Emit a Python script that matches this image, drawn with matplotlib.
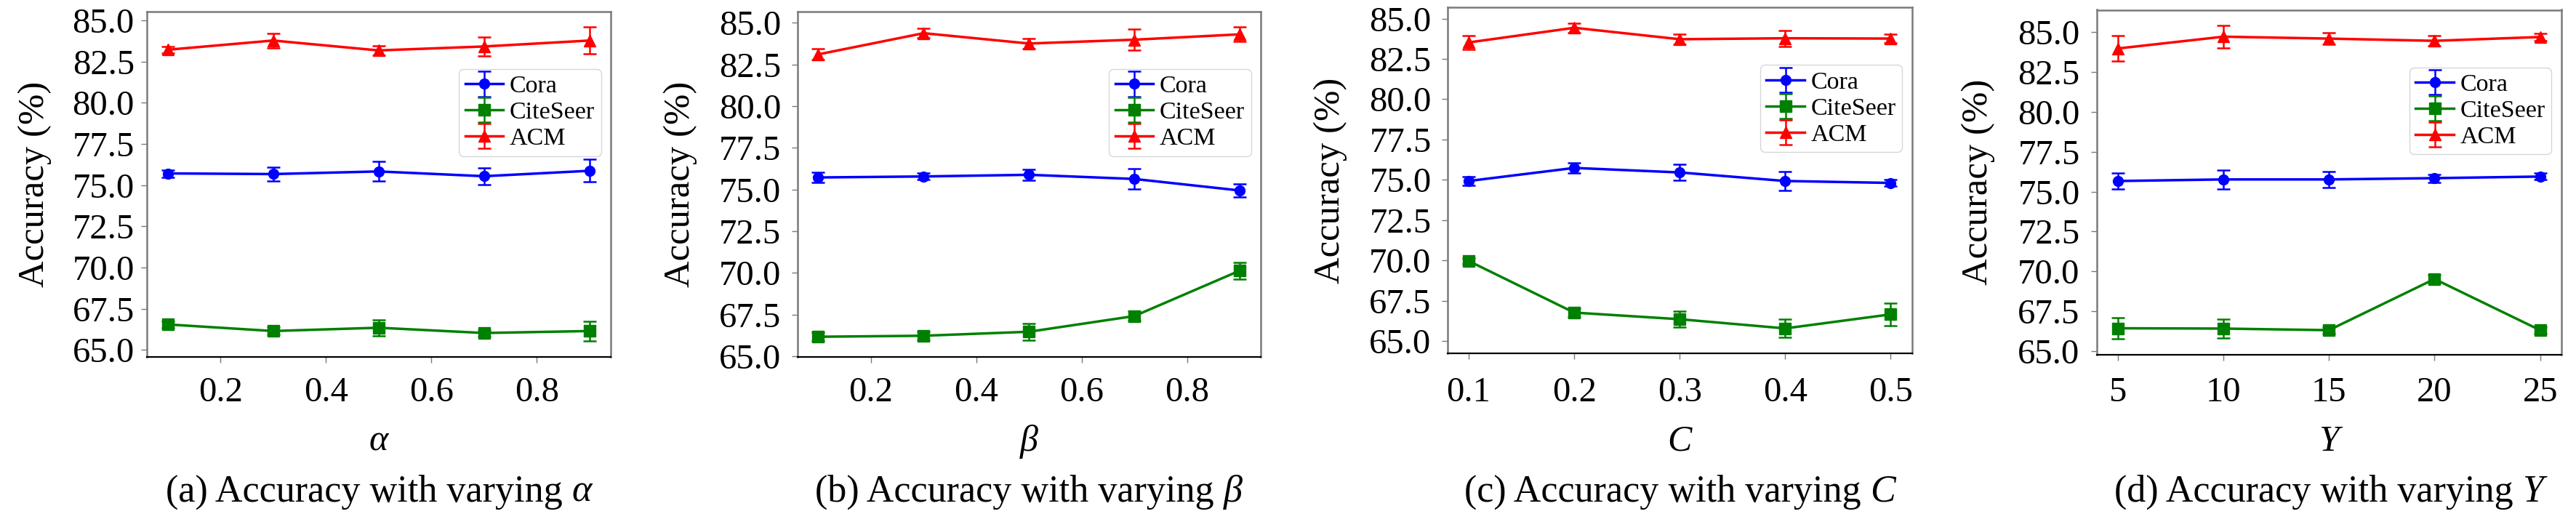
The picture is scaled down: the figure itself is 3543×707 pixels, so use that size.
import matplotlib
matplotlib.use("Agg")
import matplotlib.pyplot as plt
from matplotlib import font_manager
from matplotlib.font_manager import FontProperties
from matplotlib.text import Text
from matplotlib.ticker import FixedLocator, FormatStrFormatter

plt.rcParams['font.family'] = 'serif'
plt.rcParams['font.serif'] = ['Liberation Serif', 'Times New Roman', 'DejaVu Serif']
plt.rcParams['font.sans-serif'] = ['Liberation Serif', 'DejaVu Serif']

serif_path = font_manager.findfont(FontProperties(family='Liberation Serif'))
serif_it_path = font_manager.findfont(FontProperties(family='Liberation Serif', style='italic'))


def fp(size):
    return FontProperties(fname=serif_path, size=size)


def fpi(size):
    return FontProperties(fname=serif_it_path, size=size)


# ---------------- data ----------------
series_names = ['Cora', 'CiteSeer', 'ACM']
series_colors = ['#0000ff', '#008000', '#ff0000']
series_markers = ['o', 's', '^']
series_msize = [10, 11, 12]

x_alpha = [0.1, 0.3, 0.5, 0.7, 0.9]
cora_alpha = [75.71, 75.67, 75.83, 75.54, 75.87]
cora_alpha_err = [0.22, 0.40, 0.60, 0.52, 0.68]
cite_alpha = [66.55, 66.15, 66.35, 66.03, 66.15]
cite_alpha_err = [0.20, 0.22, 0.48, 0.20, 0.60]
acm_alpha = [83.21, 83.77, 83.17, 83.41, 83.77]
acm_alpha_err = [0.20, 0.45, 0.30, 0.58, 0.81]

x_beta = [0.1, 0.3, 0.5, 0.7, 0.9]
cora_beta = [75.72, 75.78, 75.88, 75.63, 74.94]
cora_beta_err = [0.32, 0.20, 0.33, 0.62, 0.38]
cite_beta = [66.17, 66.23, 66.47, 67.41, 70.13]
cite_beta_err = [0.25, 0.25, 0.50, 0.28, 0.50]
acm_beta = [83.10, 84.37, 83.75, 83.98, 84.30]
acm_beta_err = [0.32, 0.29, 0.30, 0.63, 0.43]

x_C = [0.1, 0.2, 0.3, 0.4, 0.5]
cora_C = [74.93, 75.74, 75.46, 74.93, 74.81]
cora_C_err = [0.26, 0.30, 0.49, 0.59, 0.20]
cite_C = [69.97, 66.77, 66.36, 65.79, 66.66]
cite_C_err = [0.20, 0.25, 0.50, 0.57, 0.70]
acm_C = [83.52, 84.43, 83.72, 83.78, 83.76]
acm_C_err = [0.43, 0.30, 0.33, 0.50, 0.28]

x_Y = [5, 10, 15, 20, 25]
cora_Y = [75.66, 75.76, 75.76, 75.84, 75.94]
cora_Y_err = [0.51, 0.58, 0.50, 0.25, 0.20]
cite_Y = [66.45, 66.43, 66.33, 69.53, 66.33]
cite_Y_err = [0.67, 0.61, 0.20, 0.25, 0.20]
acm_Y = [83.95, 84.69, 84.57, 84.43, 84.67]
acm_Y_err = [0.79, 0.70, 0.36, 0.31, 0.23]

xticks_list = [[0.2, 0.4, 0.6, 0.8], [0.2, 0.4, 0.6, 0.8],
               [0.1, 0.2, 0.3, 0.4, 0.5], [5, 10, 15, 20, 25]]
xtick_fmt = ['%.1f', '%.1f', '%.1f', '%d']
yticks = [65.0, 67.5, 70.0, 72.5, 75.0, 77.5, 80.0, 82.5, 85.0]
param_symbols = ['\u03b1', '\u03b2', 'C', 'Y']
caption_prefixes = ['(a) Accuracy with varying', '(b) Accuracy with varying',
                    '(c) Accuracy with varying', '(d) Accuracy with varying']
ylabel = 'Accuracy (%)'

panels = [
    (x_alpha, [(cora_alpha, cora_alpha_err), (cite_alpha, cite_alpha_err), (acm_alpha, acm_alpha_err)]),
    (x_beta, [(cora_beta, cora_beta_err), (cite_beta, cite_beta_err), (acm_beta, acm_beta_err)]),
    (x_C, [(cora_C, cora_C_err), (cite_C, cite_C_err), (acm_C, acm_C_err)]),
    (x_Y, [(cora_Y, cora_Y_err), (cite_Y, cite_Y_err), (acm_Y, acm_Y_err)]),
]

# ---------------- layout (pixels) ----------------
W, H = 3543, 707
boxes = [(201.5, 840.0, 15.8, 490.5),
         (1096.5, 1734.0, 15.8, 490.5),
         (1991.0, 2629.5, 9.9, 486.0),
         (2883.6, 3522.7, 13.5, 487.8)]
ylabel_x = [48, 936, 1830, 2721]
ytick_pad = [6.5, 10.6, 10.6, 11.0]
xtick_top = 518.5
tick_len_px = 7.7
px2pt = 72.0 / 100.0
cap_size = 37.5

fig = plt.figure(figsize=(W / 100, H / 100), dpi=100)
renderer = fig.canvas.get_renderer()
gray = '#7a7a7a'
italic_texts = []

for i, (xs, sers) in enumerate(panels):
    l, r, t, b = boxes[i]
    ax = fig.add_axes([l / W, 1 - b / H, (r - l) / W, (b - t) / H])
    for (ys, es), name, col, mk, ms in zip(sers, series_names, series_colors,
                                          series_markers, series_msize):
        ax.errorbar(xs, ys, yerr=es, color=col, ecolor=col, marker=mk,
                    markersize=ms, linewidth=2.5, elinewidth=1.8,
                    capsize=6.5, capthick=1.8, label=name)
    ax.xaxis.set_major_locator(FixedLocator(xticks_list[i]))
    ax.xaxis.set_major_formatter(FormatStrFormatter(xtick_fmt[i]))
    ax.yaxis.set_major_locator(FixedLocator(yticks))
    ax.yaxis.set_major_formatter(FormatStrFormatter('%.1f'))
    xpad = (xtick_top - (b + tick_len_px)) * px2pt
    ax.tick_params(axis='x', length=tick_len_px * px2pt, width=1.0, color=gray,
                   labelsize=35, pad=xpad)
    ax.tick_params(axis='y', length=tick_len_px * px2pt, width=1.0, color=gray,
                   labelsize=35, pad=ytick_pad[i])
    for side in ['left', 'right', 'top']:
        ax.spines[side].set_color(gray)
        ax.spines[side].set_linewidth(1.8)
    ax.spines['bottom'].set_color('black')
    ax.spines['bottom'].set_linewidth(1.6)
    ax.legend(loc='upper right', bbox_to_anchor=(0.979, 0.833), borderaxespad=0,
              prop=fp(24.5), handlelength=1.55, handletextpad=0.25,
              labelspacing=0.15, borderpad=0.25)
    cx = (l + r) / 2
    # x-axis label (italic symbol)
    tx = fig.text(cx / W, 1 - 620 / H, param_symbols[i], ha='center', va='baseline',
                  fontproperties=fpi(36))
    italic_texts.append(tx)
    # caption: upright prefix + italic symbol, centred under the axes
    yb = 1 - 690 / H
    t1 = fig.text(0, yb, caption_prefixes[i], ha='left', va='baseline',
                  fontproperties=fp(cap_size))
    t2 = fig.text(0, yb, param_symbols[i], ha='left', va='baseline',
                  fontproperties=fpi(cap_size))
    italic_texts.append(t2)
    w1 = t1.get_window_extent(renderer).width
    w2 = t2.get_window_extent(renderer).width
    gap = 0.25 * cap_size / px2pt
    x0 = cx - (w1 + gap + w2) / 2
    t1.set_x(x0 / W)
    t2.set_x((x0 + w1 + gap) / W)
    # y-axis label
    fig.text(ylabel_x[i] / W, 1 - ((t + b) / 2) / H, ylabel, rotation=90,
             ha='center', va='center', fontproperties=fp(36.5))

# make sure every upright text (tick labels, legend, labels) uses the serif face
fig.canvas.draw()
for txt in fig.findobj(Text):
    if txt in italic_texts:
        txt.set_fontproperties(fpi(txt.get_fontsize()))
    else:
        txt.set_fontproperties(fp(txt.get_fontsize()))

fig.savefig('out.png', dpi=100)
